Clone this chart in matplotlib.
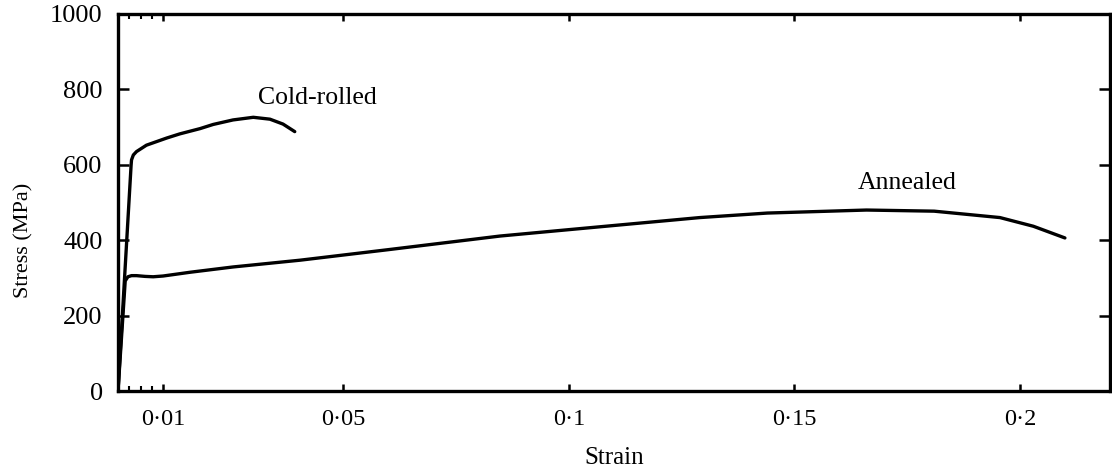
import matplotlib
matplotlib.use("Agg")
import matplotlib.pyplot as plt
from matplotlib.ticker import FixedLocator

plt.rcParams['font.family'] = ['Liberation Serif', 'DejaVu Serif']

# Data
annealed_strain = [0.0, 0.0016, 0.0022, 0.0030, 0.0041, 0.006, 0.0078, 0.010, 0.013, 0.016,
                   0.0255, 0.0404, 0.06, 0.0847, 0.1, 0.129, 0.144, 0.166, 0.181,
                   0.1956, 0.203, 0.210]
annealed_stress = [0, 292, 303, 306, 306, 304, 303, 305, 310, 315,
                   329, 347, 375, 411, 428, 460, 472, 480, 477,
                   460, 437, 406]

cold_strain = [0.0, 0.0029, 0.0030, 0.0034, 0.0041, 0.0063, 0.0108, 0.0137, 0.0182, 0.0211,
               0.0255, 0.030, 0.0337, 0.0366, 0.0392]
cold_stress = [0, 598, 613, 626, 635, 652, 671, 682, 696, 707,
               719, 726, 721, 708, 688]

x_major = [0.01, 0.05, 0.1, 0.15, 0.2]
x_major_labels = ['0·01', '0·05', '0·1', '0·15', '0·2']
x_minor = [0.0025, 0.005, 0.0075]
y_ticks = [0, 200, 400, 600, 800, 1000]
y_labels = ['0', '200', '400', '600', '800', '1000']

fig = plt.figure(figsize=(11.12, 4.73), dpi=100)
ax = fig.add_axes([118/1112, 1 - 391/473, (1110 - 118)/1112, (391 - 14)/473])

ax.plot(annealed_strain, annealed_stress, color='black', lw=2.4,
        solid_capstyle='round', solid_joinstyle='round')
ax.plot(cold_strain, cold_stress, color='black', lw=2.4,
        solid_capstyle='round', solid_joinstyle='round')

ax.set_xlim(0, 0.22)
ax.set_ylim(0, 1000)

ax.xaxis.set_major_locator(FixedLocator(x_major))
ax.set_xticklabels(x_major_labels)
ax.xaxis.set_minor_locator(FixedLocator(x_minor))
ax.set_yticks(y_ticks)
ax.set_yticklabels(y_labels)

ax.tick_params(axis='both', which='major', direction='in', top=True, right=True,
               width=1.8, colors='black')
ax.tick_params(axis='x', which='major', length=5, pad=13, labelsize=17.5)
ax.tick_params(axis='y', which='major', length=8, pad=11, labelsize=19)
ax.tick_params(axis='x', which='minor', direction='in', top=True, length=3.5, width=1.5)

for s in ax.spines.values():
    s.set_linewidth(2.4)
    s.set_color('black')

ax.set_xlabel('Strain', fontsize=18, labelpad=12)
ax.set_ylabel('Stress (MPa)', fontsize=16)
ax.yaxis.set_label_coords(-0.0857, 0.40)

ax.text(0.0443, 777, 'Cold-rolled', fontsize=18.5, ha='center', va='center')
ax.text(0.175, 552, 'Annealed', fontsize=18.5, ha='center', va='center')

fig.savefig('out.png', dpi=100)
